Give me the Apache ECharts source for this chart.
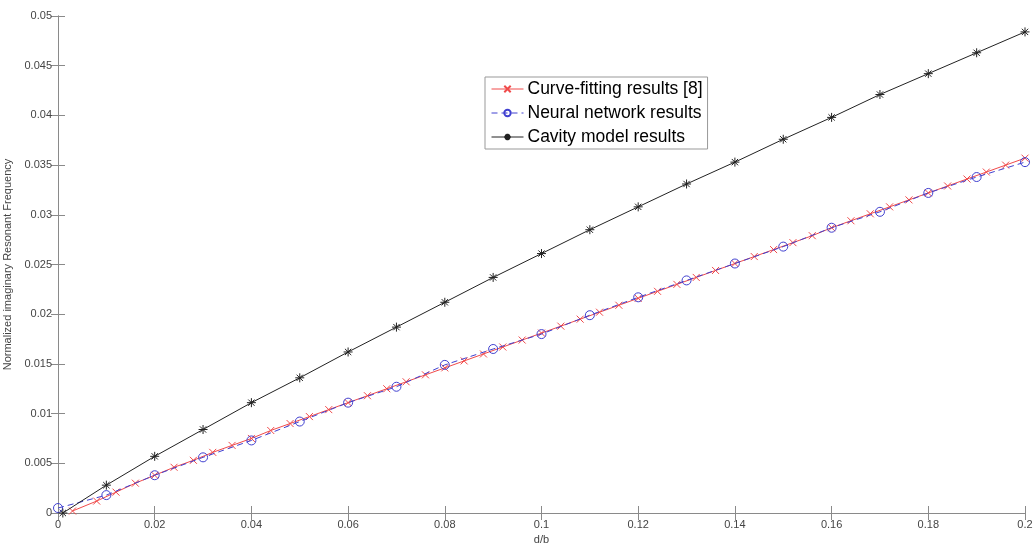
<!DOCTYPE html>
<html>
<head>
<meta charset="utf-8">
<title>Normalized imaginary resonant frequency</title>
<script src="https://cdn.jsdelivr.net/npm/echarts@6/dist/echarts.min.js"></script>
<style>
  html, body { margin: 0; padding: 0; background: #fff; }
  #chart { width: 1035px; height: 545px; }
</style>
</head>
<body>
<div id="chart"></div>
<script>
// d/b values for each series
var curveX = [0.003, 0.008, 0.012, 0.016, 0.020, 0.024, 0.028, 0.032, 0.036, 0.040,
  0.044, 0.048, 0.052, 0.056, 0.060, 0.064, 0.068, 0.072, 0.076, 0.080,
  0.084, 0.088, 0.092, 0.096, 0.100, 0.104, 0.108, 0.112, 0.116, 0.120,
  0.124, 0.128, 0.132, 0.136, 0.140, 0.144, 0.148, 0.152, 0.156, 0.160,
  0.164, 0.168, 0.172, 0.176, 0.180, 0.184, 0.188, 0.192, 0.196, 0.200];
var curveY = [0.0002, 0.0012, 0.0021, 0.0030, 0.0038, 0.0046, 0.0053, 0.0061, 0.0068, 0.0075,
  0.0083, 0.0090, 0.0097, 0.0104, 0.0111, 0.0118, 0.0125, 0.0132, 0.0139, 0.0146,
  0.0153, 0.0160, 0.0167, 0.0174, 0.0181, 0.0188, 0.0195, 0.0202, 0.0209, 0.0216,
  0.0223, 0.0230, 0.0237, 0.0244, 0.0251, 0.0258, 0.0265, 0.0272, 0.0279, 0.0287,
  0.0294, 0.0301, 0.0308, 0.0315, 0.0322, 0.0329, 0.0336, 0.0343, 0.0350, 0.0357];

var nnX = [0, 0.01, 0.02, 0.03, 0.04, 0.05, 0.06, 0.07, 0.08, 0.09, 0.10,
  0.11, 0.12, 0.13, 0.14, 0.15, 0.16, 0.17, 0.18, 0.19, 0.20];
var nnY = [0.0005, 0.0018, 0.0038, 0.0056, 0.0073, 0.0092, 0.0111, 0.0127, 0.0149, 0.0165, 0.0180,
  0.0199, 0.0217, 0.0234, 0.0251, 0.0268, 0.0287, 0.0303, 0.0322, 0.0338, 0.0353];

var cavX = [0.001, 0.01, 0.02, 0.03, 0.04, 0.05, 0.06, 0.07, 0.08, 0.09, 0.10,
  0.11, 0.12, 0.13, 0.14, 0.15, 0.16, 0.17, 0.18, 0.19, 0.20];
var cavY = [0.0000, 0.0028, 0.0057, 0.0084, 0.0111, 0.0136, 0.0162, 0.0187, 0.0212, 0.0237, 0.0261,
  0.0285, 0.0308, 0.0331, 0.0353, 0.0376, 0.0398, 0.0421, 0.0442, 0.0463, 0.0484];

var seriesNames = ["Curve-fitting results [8]", "Neural network results", "Cavity model results"];

function pairs(xs, ys) {
  return xs.map(function (x, i) { return [x, ys[i]]; });
}

var crossPath = "path://M0,0L10,10M10,0L0,10";
var starPath = "path://M5,0L5,10M0,5L10,5M1.5,1.5L8.5,8.5M8.5,1.5L1.5,8.5";

var axisGray = "#8a8a8a";
var labelColor = "#444";
var font = "Liberation Sans, Arial, sans-serif";

var chart = echarts.init(document.getElementById("chart"));

var option = {
  backgroundColor: "#fff",
  animation: false,
  grid: { left: 58, right: 10, top: 16, bottom: 32, outerBoundsMode: "none", containLabel: false },
  legend: {
    orient: "vertical",
    left: 485,
    top: 77,
    data: seriesNames,
    backgroundColor: "#fff",
    borderColor: "#999",
    borderWidth: 1,
    padding: [3, 5, 3, 6],
    itemGap: 6,
    itemWidth: 32,
    itemHeight: 8,
    lineStyle: { width: 1 },
    textStyle: { fontSize: 17.5, color: "#000", fontFamily: font, padding: [0, 0, 0, -1] }
  },
  xAxis: [
    {
      type: "value",
      min: 0,
      max: 0.2,
      interval: 0.02,
      name: "d/b",
      nameLocation: "middle",
      nameGap: 19,
      nameTextStyle: { fontSize: 11, color: labelColor, fontFamily: font },
      axisLine: { show: true, lineStyle: { color: axisGray } },
      axisTick: { show: true, inside: true, length: 7, lineStyle: { color: axisGray } },
      axisLabel: { fontSize: 11, color: labelColor, fontFamily: font, margin: 6 },
      splitLine: { show: false }
    },
    {
      type: "value",
      position: "top",
      min: 0,
      max: 0.2,
      interval: 0.02,
      axisLine: { show: true, lineStyle: { color: axisGray } },
      axisTick: { show: true, inside: true, length: 7, lineStyle: { color: axisGray } },
      axisLabel: { show: false },
      splitLine: { show: false }
    }
  ],
  yAxis: [
    {
      type: "value",
      min: 0,
      max: 0.05,
      interval: 0.005,
      name: "Normalized imaginary Resonant Frequency",
      nameLocation: "middle",
      nameGap: 44,
      nameTextStyle: { fontSize: 11, color: labelColor, fontFamily: font },
      axisLine: { show: true, lineStyle: { color: axisGray } },
      axisTick: { show: true, inside: true, length: 7, lineStyle: { color: axisGray } },
      axisLabel: { fontSize: 11, color: labelColor, fontFamily: font, margin: 6 },
      splitLine: { show: false }
    },
    {
      type: "value",
      position: "right",
      min: 0,
      max: 0.05,
      interval: 0.005,
      axisLine: { show: true, lineStyle: { color: axisGray } },
      axisTick: { show: true, inside: true, length: 7, lineStyle: { color: axisGray } },
      axisLabel: { show: false },
      splitLine: { show: false }
    }
  ],
  series: [
    {
      name: seriesNames[0],
      type: "line",
      data: pairs(curveX, curveY),
      symbol: crossPath,
      symbolSize: 7,
      showAllSymbol: true,
      itemStyle: { color: "#f04a4a", borderColor: "#f04a4a", borderWidth: 1 },
      lineStyle: { color: "#f04a4a", width: 1 },
      z: 3
    },
    {
      name: seriesNames[1],
      type: "line",
      data: pairs(nnX, nnY),
      symbol: "circle",
      symbolSize: 9,
      showAllSymbol: true,
      itemStyle: { color: "rgba(255,255,255,0)", borderColor: "#4040d0", borderWidth: 1 },
      lineStyle: { color: "#4040d0", width: 1, type: [6, 4] },
      z: 4
    },
    {
      name: seriesNames[2],
      type: "line",
      data: pairs(cavX, cavY),
      symbol: starPath,
      symbolSize: 9,
      showAllSymbol: true,
      itemStyle: { color: "#222", borderColor: "#222", borderWidth: 1 },
      lineStyle: { color: "#222", width: 1 },
      z: 5
    }
  ]
};

chart.setOption(option);
window.addEventListener("resize", function () {
  chart.resize();
});
</script>
</body>
</html>
